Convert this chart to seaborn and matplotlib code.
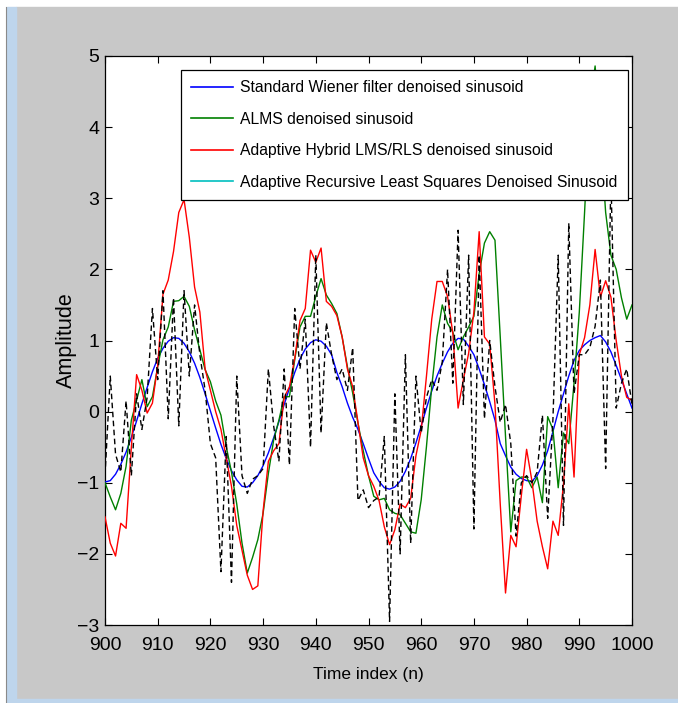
"""
Denoised sinusoid comparison (time index 900-1000).
"""

import matplotlib.pyplot as plt
import numpy as np
import seaborn as sns
from matplotlib.lines import Line2D
from matplotlib.patches import Rectangle


TIME_START = 900
TIME_END = 1000

# noisy input (black dashed)
noisy_signal = [
    -0.90, 0.50, -0.60, -0.85, 0.15, -0.90, 0.25, -0.25, 0.20, 1.45,
    0.45, 1.70, -0.10, 1.60, -0.20, 1.70, 0.50, 1.50, 0.80, 0.30,
    -0.45, -0.65, -2.25, -0.35, -2.40, 0.50, -0.90, -1.15, -0.95, -0.90,
    -0.80, 0.60, -0.20, -0.70, 0.60, -0.75, 1.45, 0.60, 1.30, -0.50,
    2.20, -0.30, 1.25, 0.80, 0.45, 0.60, 0.30, 0.90, -1.25, -1.10,
    -1.35, -1.25, -1.20, -0.35, -2.95, 0.25, -2.00, 0.80, -1.85, 0.50,
    -0.30, 0.20, 0.45, 0.30, 0.70, 2.00, 0.40, 2.55, 0.10, 2.20,
    -1.65, 2.20, -0.10, 1.00, 0.35, -0.15, 0.10, -0.45, -1.75, -1.00,
    -0.90, -1.00, -0.85, -0.05, -1.50, -0.10, 2.20, -1.60, 2.65, 0.25,
    0.80, 0.80, 0.90, 1.20, 1.85, -0.80, 3.30, 0.05, 0.40, 0.60,
    0.10,
]

wiener_signal = [
    -0.99, -0.97, -0.88, -0.74, -0.57, -0.36, -0.13, 0.11, 0.34, 0.56,
    0.75, 0.89, 0.99, 1.04, 1.03, 0.96, 0.84, 0.68, 0.48, 0.25,
    0.01, -0.23, -0.46, -0.66, -0.83, -0.96, -1.05, -1.06, -1.00, -0.90,
    -0.76, -0.58, -0.37, -0.14, 0.10, 0.33, 0.55, 0.74, 0.88, 0.97,
    1.01, 0.99, 0.92, 0.80, 0.55, 0.35, 0.12, -0.08, -0.25, -0.45,
    -0.66, -0.86, -0.98, -1.07, -1.09, -1.06, -0.98, -0.84, -0.66, -0.44,
    -0.20, 0.05, 0.29, 0.50, 0.68, 0.84, 0.96, 1.03, 1.02, 0.92,
    0.80, 0.60, 0.38, 0.14, -0.12, -0.45, -0.62, -0.78, -0.88, -0.94,
    -0.97, -0.98, -0.90, -0.75, -0.55, -0.28, 0.00, 0.25, 0.50, 0.72,
    0.86, 0.94, 1.00, 1.04, 1.07, 0.98, 0.84, 0.65, 0.45, 0.25,
    0.05,
]

alms_signal = [
    -1.00, -1.20, -1.38, -1.15, -0.77, -0.12, 0.16, 0.45, 0.07, 0.21,
    0.63, 1.01, 1.19, 1.55, 1.56, 1.62, 1.48, 1.15, 0.87, 0.59,
    0.42, 0.15, -0.05, -0.49, -0.85, -1.30, -1.85, -2.27, -2.05, -1.80,
    -1.43, -0.87, -0.40, -0.12, 0.21, 0.21, 0.73, 1.19, 1.34, 1.34,
    1.62, 1.87, 1.64, 1.52, 1.38, 1.05, 0.63, 0.26, -0.16, -0.55,
    -0.90, -1.19, -1.24, -1.22, -1.38, -1.43, -1.45, -1.57, -1.69, -1.71,
    -1.24, -0.49, 0.35, 1.05, 1.50, 1.24, 1.12, 0.87, 1.05, 1.19,
    1.34, 1.94, 2.37, 2.53, 2.41, 1.05, -0.35, -1.69, -0.97, -0.92,
    -0.92, -1.07, -0.92, -1.28, -0.07, -0.25, -1.07, -0.30, -0.45, 0.40,
    1.40, 2.80, 4.30, 4.86, 3.90, 2.80, 2.20, 2.00, 1.60, 1.30,
    1.50,
]

hybrid_signal = [
    -1.48, -1.85, -2.03, -1.57, -1.64, -0.50, 0.52, 0.30, -0.02, 0.12,
    0.65, 1.65, 1.85, 2.25, 2.80, 2.98, 2.45, 1.75, 1.40, 0.60,
    0.30, 0.00, -0.25, -0.65, -1.05, -1.60, -1.95, -2.30, -2.50, -2.45,
    -1.40, -0.70, -0.55, -0.45, 0.20, 0.35, 0.75, 1.28, 1.45, 2.27,
    2.10, 2.30, 1.55, 1.48, 1.35, 1.05, 0.60, 0.35, -0.15, -0.65,
    -0.90, -1.05, -1.25, -1.62, -1.87, -1.66, -1.30, -1.35, -1.22, -0.62,
    -0.26, 0.50, 1.30, 1.83, 1.83, 1.62, 1.10, 0.05, 0.45, 0.82,
    1.40, 2.53, 1.05, 0.95, 0.10, -1.30, -2.55, -1.74, -1.90, -1.18,
    -0.53, -0.97, -1.54, -1.90, -2.21, -1.54, -1.74, -1.02, 0.11, -0.92,
    0.80, 1.04, 1.50, 2.28, 1.61, 1.84, 1.61, 1.00, 0.50, 0.20,
    0.16,
]

legend_labels = [
    "Standard Wiener filter denoised sinusoid",
    "ALMS denoised sinusoid",
    "Adaptive Hybrid LMS/RLS denoised sinusoid",
    "Adaptive Recursive Least Squares Denoised Sinusoid",
]
legend_colors = ["#0000ff", "#008000", "#ff0000", "#00bfbf"]

FONT_FAMILY = ["Liberation Sans", "DejaVu Sans"]


def add_window_frame(fig) -> None:
    """
    Grey window background with the thin blue edges of the screenshot.
    """
    w, h = 678.0, 703.0
    fig.patches.extend([
        Rectangle((16 / w, 4 / h), 1 - 16 / w, 1 - 11 / h,
                  transform=fig.transFigure, color="#c8c8c8", zorder=-3),
        Rectangle((7 / w, 0), 9 / w, 1 - 7 / h,
                  transform=fig.transFigure, color="#bed5ec", zorder=-2),
        Rectangle((7 / w, 0), 1 - 7 / w, 4 / h,
                  transform=fig.transFigure, color="#bed5ec", zorder=-2),
    ])
    fig.lines.append(
        Line2D([6 / w, 6 / w], [0, 1 - 7 / h], transform=fig.transFigure,
               color="#8a8a8a", linewidth=0.8)
    )


def main() -> None:
    plt.rcParams["font.family"] = FONT_FAMILY

    time_index = np.arange(TIME_START, TIME_END + 1)

    fig = plt.figure(figsize=(6.78, 7.03), dpi=100)
    fig.patch.set_facecolor("white")
    add_window_frame(fig)

    ax = fig.add_axes([105 / 678, 78 / 703, 527 / 678, 569 / 703])
    ax.set_facecolor("white")

    sns.lineplot(x=time_index, y=wiener_signal, color=legend_colors[0],
                 linewidth=1.0, ax=ax, zorder=3)
    sns.lineplot(x=time_index, y=alms_signal, color=legend_colors[1],
                 linewidth=1.0, ax=ax, zorder=3)
    sns.lineplot(x=time_index, y=hybrid_signal, color=legend_colors[2],
                 linewidth=1.0, ax=ax, zorder=3)
    sns.lineplot(x=time_index, y=noisy_signal, color="black",
                 linewidth=1.0, linestyle=(0, (4, 2.5)), ax=ax, zorder=4)

    ax.set_xlim(900, 1000)
    ax.set_ylim(-3, 5)
    ax.set_xticks(np.arange(900, 1001, 10))
    ax.set_yticks(np.arange(-3, 6, 1))
    ax.tick_params(direction="in", top=True, right=True, length=5,
                   width=0.8, labelsize=14, pad=4)
    ax.tick_params(axis="x", pad=9)
    for spine in ax.spines.values():
        spine.set_linewidth(0.9)
        spine.set_color("black")

    ax.set_xlabel("Time index (n)", fontsize=12.5, labelpad=9)
    ax.set_ylabel("Amplitude", fontsize=15.5, labelpad=0)

    handles = [Line2D([], [], color=c, linewidth=1.2) for c in legend_colors]
    legend = ax.legend(
        handles, legend_labels, loc="upper right",
        bbox_to_anchor=(1 - 4 / 527, 1 - 14 / 569), borderaxespad=0,
        fontsize=11.3, fancybox=False, framealpha=1, edgecolor="black",
        handlelength=2.7, handletextpad=0.45, labelspacing=1.05,
        borderpad=0.65,
    )
    legend.get_frame().set_linewidth(0.9)
    legend.set_zorder(10)

    fig.savefig("out.png", dpi=100, facecolor=fig.get_facecolor())
    plt.close(fig)


if __name__ == "__main__":
    main()
